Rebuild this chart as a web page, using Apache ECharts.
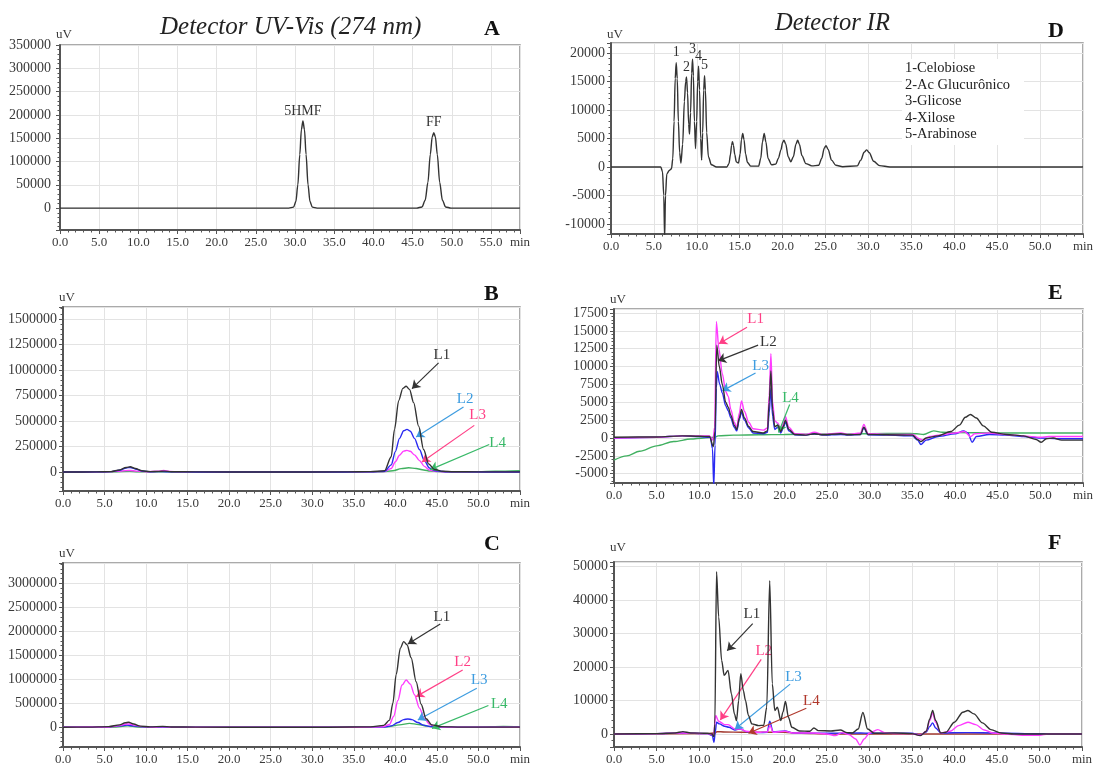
<!DOCTYPE html>
<html>
<head>
<meta charset="utf-8">
<script src="https://cdn.jsdelivr.net/npm/echarts@6/dist/echarts.min.js"></script>
<style>
html,body{margin:0;padding:0;background:#fff;}
#chart{width:1094px;height:765px;}
</style>
</head>
<body>
<div id="chart"></div>
<script>
// ---- tick values (uV) for each panel ----
const yTicksA = [0, 50000, 100000, 150000, 200000, 250000, 300000, 350000];
const yTicksB = [0, 250000, 500000, 750000, 1000000, 1250000, 1500000];
const yTicksC = [0, 500000, 1000000, 1500000, 2000000, 2500000, 3000000];
const yTicksD = [-10000, -5000, 0, 5000, 10000, 15000, 20000];
const yTicksE = [-5000, -2500, 0, 2500, 5000, 7500, 10000, 12500, 15000, 17500];
const yTicksF = [0, 10000, 20000, 30000, 40000, 50000];

// ---- chromatogram traces: [time (min), signal (uV)] ----
// A: UV-Vis 274 nm standard
const uvStd = [[0,0],[29.2,0],[29.8,2000],[30.1,14000],[30.35,50000],[30.6,115000],[30.8,168000],[31.0,187000],[31.2,168000],[31.4,115000],[31.65,50000],[31.9,14000],[32.2,2000],[32.8,0],
  [45.5,0],[46.2,2500],[46.6,17000],[46.95,55000],[47.25,115000],[47.5,153000],[47.7,162000],[47.9,153000],[48.15,115000],[48.45,55000],[48.8,17000],[49.2,2500],[49.9,0],[58.7,0]];

// B: UV-Vis, samples L1..L4
const uvB_L1 = [[0,0],[4,1000],[5.8,4000],[6.8,20000],[7.6,45000],[8.1,52000],[8.7,35000],[9.5,12000],[10.5,4000],[11.5,6000],[12.2,9000],[13,3000],[16,1000],[25,0],[34,1000],[37,4000],[38.7,12000],
  [39.5,150000],[39.9,420000],[40.4,700000],[40.9,820000],[41.3,840000],[41.7,810000],[42.2,680000],[42.8,450000],[43.4,220000],[44.0,80000],[44.7,25000],[45.7,8000],[47,3000],[50,1000],[55,1000]];
const uvB_L2 = [[0,0],[4,1000],[5.8,4000],[6.8,18000],[7.6,40000],[8.1,45000],[8.7,30000],[9.5,10000],[10.5,3000],[12,4000],[13,1500],[16,500],[25,0],[34,500],[37,2000],[38.7,6000],
  [39.5,70000],[40.0,200000],[40.5,330000],[41.0,405000],[41.4,418000],[41.8,400000],[42.3,330000],[42.9,220000],[43.5,110000],[44.1,40000],[44.8,12000],[46,3000],[48,1000],[55,0]];
const uvB_L3 = [[0,0],[5,1000],[6.5,6000],[7.6,14000],[8.1,15000],[8.8,9000],[10,3000],[11.5,8000],[12.1,15000],[12.8,6000],[14,2000],[18,500],[25,0],[34,1000],[37,3000],[38.7,5000],
  [39.5,35000],[40.0,100000],[40.5,165000],[41.0,205000],[41.4,212000],[41.8,203000],[42.3,168000],[42.9,112000],[43.5,55000],[44.1,20000],[44.8,6000],[46,2000],[55,0]];
const uvB_L4 = [[0,0],[6,1000],[8,8000],[9,3000],[12,3000],[20,500],[35,1000],[38.5,3000],[39.7,12000],[40.7,33000],[41.6,42000],[42.5,35000],[43.4,20000],[44.2,9000],[45.2,4000],[47,2000],[50,4000],[52,9000],[55,14000]];

// C: UV-Vis, samples L1..L4
const uvC_L1 = [[0,0],[3,5000],[5.5,15000],[6.8,50000],[7.5,95000],[7.9,105000],[8.5,70000],[9.3,25000],[10.5,10000],[12,20000],[13,8000],[16,3000],[25,0],[32,2000],[37,10000],[38.6,40000],
  [39.3,150000],[39.7,500000],[40.1,1100000],[40.6,1650000],[41.0,1785000],[41.4,1720000],[41.9,1450000],[42.5,950000],[43.1,480000],[43.7,180000],[44.4,50000],[45.5,15000],[48,5000],[55,5000]];
const uvC_L2 = [[0,0],[5.5,8000],[6.8,35000],[7.6,68000],[8.0,70000],[8.6,45000],[9.5,15000],[11,5000],[12,12000],[13,5000],[16,1500],[25,0],[35,2000],[38.5,10000],
  [39.3,60000],[39.8,230000],[40.3,560000],[40.8,880000],[41.3,986000],[41.8,900000],[42.3,680000],[42.9,400000],[43.5,180000],[44.1,65000],[44.8,20000],[46,5000],[55,0]];
const uvC_L3 = [[0,0],[5.5,8000],[6.8,30000],[7.7,45000],[8.5,30000],[9.5,10000],[12,4000],[16,0],[35,1000],[38.5,5000],
  [39.5,30000],[40.3,100000],[41.0,160000],[41.5,174000],[42.0,160000],[42.7,100000],[43.4,45000],[44.2,15000],[45.5,3000],[55,0]];
const uvC_L4 = [[0,0],[6,5000],[7.8,30000],[9,8000],[12,2000],[20,0],[36,2000],[39,10000],[40.5,50000],[41.7,83000],[42.8,60000],[43.8,25000],[44.8,8000],[46,3000],[50,5000],[53,20000],[55,15000]];

// D: refractive index, sugar standards
const irStd = [[0,0],[5.8,0],[6.0,-800],[6.15,-5000],[6.25,-12500],[6.35,-5000],[6.5,-1200],[6.8,-600],[7.05,-300],[7.2,1500],[7.35,8000],[7.48,15500],[7.6,18300],[7.72,15500],[7.85,8000],[8.0,2500],[8.15,700],
  [8.35,4000],[8.55,11500],[8.7,15000],[8.8,15800],[8.92,13000],[9.05,7500],[9.15,5800],[9.27,9500],[9.4,16500],[9.5,18900],[9.6,16000],[9.72,8000],[9.85,3200],[9.98,8000],[10.1,15000],[10.2,17700],[10.32,13500],[10.45,5000],[10.56,1200],
  [10.68,6000],[10.8,13500],[10.9,16000],[11.0,13500],[11.15,6000],[11.35,1800],[11.7,400],[12.3,0],[13.5,0],[13.75,600],[13.92,2200],[14.05,3800],[14.15,4450],[14.27,3800],[14.42,2200],[14.6,900],[14.85,700],
  [15.05,2300],[15.2,4800],[15.35,5900],[15.5,4800],[15.68,2300],[15.9,800],[16.3,150],[17.2,150],[17.45,1500],[17.65,4400],[17.85,5900],[18.05,4400],[18.3,1500],[18.7,400],[19.2,500],[19.5,1500],[19.8,3000],
  [20.0,4300],[20.15,4700],[20.35,4100],[20.65,1800],[20.95,900],[21.25,1800],[21.55,4000],[21.75,4700],[21.95,4000],[22.25,2000],[22.7,600],[23.4,200],[24.2,300],[24.55,1500],[24.85,3300],[25.05,3750],[25.3,3100],[25.7,1200],
  [26.2,300],[27,50],[28.7,200],[29.1,1200],[29.5,2600],[29.8,3000],[30.1,2500],[30.6,1000],[31.3,250],[32.5,0],[55,0]];

// E: refractive index, samples L1..L4
const irE_L1 = [[0,0],[5,100],[8,300],[10,300],[11.2,300],[11.6,-300],[11.8,1500],[12.0,16300],[12.3,12500],[12.7,9000],[13.1,6500],[13.4,5800],[13.7,4000],[14.1,2200],[14.4,1500],
  [14.7,3500],[14.95,5200],[15.3,3700],[15.8,2200],[16.3,1300],[17.5,1100],[18.0,1400],[18.2,6000],[18.4,11800],[18.6,5000],[18.85,2400],[19.2,2100],[19.55,1200],[19.85,2000],
  [20.1,3000],[20.5,1500],[21.2,600],[22.5,500],[23.5,800],[24.5,500],[26.6,700],[27.5,500],[28.9,700],[29.3,1900],[29.8,600],[32,500],[35,500],[35.8,-100],[36.2,-300],
  [37,200],[38,400],[40,700],[41.1,900],[41.8,200],[42.3,600],[44,700],[46,500],[48,300],[50,100],[51,200],[52,200],[55,200]];
const irE_L2 = [[0,100],[5,150],[8,300],[10,250],[11.2,200],[11.65,-1200],[11.85,1000],[12.05,13000],[12.35,10000],[12.7,7500],[13.1,5000],[13.4,4300],[13.7,3200],[14.1,1800],
  [14.4,1200],[14.7,2800],[14.95,4000],[15.3,2800],[15.8,1600],[16.3,900],[17.5,700],[18.0,1000],[18.2,5000],[18.4,9400],[18.6,4000],[18.85,1600],[19.2,1800],[19.55,900],
  [19.85,1600],[20.1,2500],[20.5,1200],[21.2,500],[22.5,400],[23.5,600],[24.5,450],[26.6,600],[27.5,450],[28.9,500],[29.3,1500],[29.8,500],[32,450],[35,400],[35.6,-200],
  [36.0,-500],[36.6,0],[38,300],[39.5,900],[40.5,1800],[41.2,2900],[41.8,3300],[42.5,2800],[43.3,1700],[44.3,800],[46,500],[48,300],[49.5,-200],[50.1,-600],[50.7,-100],
  [51.5,0],[52.5,-300],[55,-300]];
const irE_L3 = [[0,0],[5,100],[8,300],[10,200],[11.3,100],[11.55,-1500],[11.7,-6800],[11.85,-1000],[12.0,7000],[12.1,9300],[12.4,7500],[12.7,6300],[13.1,4500],[13.4,3800],
  [13.7,2800],[14.1,1500],[14.4,1000],[14.7,2600],[14.95,3600],[15.3,2500],[15.8,1400],[16.3,700],[17.5,600],[18.0,800],[18.2,3500],[18.4,7000],[18.6,3000],[18.85,1200],
  [19.2,1500],[19.55,700],[19.85,1400],[20.1,2200],[20.5,1000],[21.2,450],[22.5,400],[23.5,600],[24.5,400],[26.6,500],[27.5,400],[28.9,500],[29.3,1400],[29.8,450],[32,400],
  [35,300],[35.6,-300],[36.0,-900],[36.6,-300],[38,200],[40,600],[41.0,1000],[41.5,700],[42.0,-600],[42.5,200],[44,500],[46,400],[48,200],[50,0],[52,-100],[55,-100]];
const irE_L4 = [[0,-3100],[1.5,-2500],[3,-1850],[5,-1100],[7,-500],[9,-150],[10.5,0],[11.8,100],[12.2,300],[14,400],[17,450],[20,500],[25,550],[30,600],[34,650],[35.5,600],
  [36.3,500],[37.5,1000],[38.5,800],[40,750],[45,700],[50,700],[55,700]];

// F: refractive index, samples L1..L4
const irF_L1 = [[0,0],[5,100],[7.2,300],[8.1,700],[9,300],[11,200],[11.5,0],[11.75,-800],[11.85,3000],[12.05,48500],[12.3,35000],[12.65,22000],[12.95,17500],[13.4,19000],
  [13.8,12000],[14.15,6000],[14.4,4000],[14.65,10000],[14.9,18000],[15.2,13000],[15.45,10000],[15.8,5500],[16.2,3000],[17,2500],[17.6,2600],[17.95,8000],[18.3,45800],
  [18.6,15000],[18.9,7000],[19.2,8000],[19.6,4000],[19.85,6500],[20.15,9700],[20.5,5000],[20.9,2000],[21.8,900],[23.0,800],[23.5,1800],[24,1000],[25.5,900],[26.6,1200],
  [27.4,400],[28,300],[28.7,1500],[29.25,6400],[29.8,1500],[30.6,200],[33,300],[35,100],[36,-500],[36.7,800],[37.1,4500],[37.45,7000],[37.8,4000],[38.4,300],[39,500],
  [40,3500],[41.0,6500],[41.6,7000],[42.3,6000],[43.3,3300],[44.3,1300],[45.5,300],[47,0],[55,0]];
const irF_L2 = [[0,0],[5,100],[8,300],[11,100],[11.7,-300],[11.95,5500],[12.3,3800],[13,2800],[13.4,2800],[14.2,1500],[14.9,1500],[15.5,800],[17,500],[18,600],[18.35,2500],
  [18.7,500],[20.1,800],[21,300],[23.5,300],[25,0],[26.0,-500],[26.8,400],[27.6,-200],[28.4,-1500],[28.9,-3300],[29.4,-1500],[30,200],[31,1300],[31.8,400],[33,100],[35,100],
  [36,-400],[36.7,800],[37.1,4000],[37.45,6300],[37.8,3500],[38.4,300],[39.5,800],[40.5,2500],[41.6,3500],[42.5,2800],[43.5,1200],[44.5,300],[46,0],[48,-400],[50,-400],[51,0],[55,0]];
const irF_L3 = [[0,0],[5,100],[8,300],[11,100],[11.55,-500],[11.75,-2500],[11.9,500],[12.05,3500],[12.4,3000],[13,2300],[13.5,2000],[14.2,1200],[14.9,1500],[15.5,700],[17,400],
  [18,500],[18.3,3800],[18.7,600],[20.1,900],[21,300],[25,200],[29,300],[30,200],[35,200],[36,-300],[36.7,600],[37.1,2200],[37.45,3300],[37.8,1800],[38.4,300],[41.5,400],
  [45,300],[50,0],[55,0]];
const irF_L4 = [[0,0],[11,100],[11.9,300],[12.1,700],[13,600],[15,500],[18,500],[20,500],[22,200],[25,0],[55,0]];

// ---- styling ----
const FONT = '"Liberation Serif","Times New Roman",serif';
const INK = '#333333', BLUE = '#2a2af2', MAGENTA = '#ff3cff', GREEN = '#40b060', DARKRED = '#a33a30';
const TXT_BLUE = '#3d9ce0', TXT_PINK = '#ff3f86', TXT_GREEN = '#38b968', TXT_RED = '#b0382c';

// Panel frames in page pixels: [left, top, right, bottom]
const panels = [
  { box:[60,45,520,230],   xMax:58.7, yRange:[-47000,350000],   yTicks:yTicksA, nameGap:4, labelMargin:9,
    curves:[{data:uvStd, color:INK}],
    tags:[{t:'5HMF', at:[31.0,187000]}, {t:'FF', at:[47.7,162000]}], notes:[] },
  { box:[63,307,520,491],  xMax:55, yRange:[-186000,1617000], yTicks:yTicksB, nameGap:3, labelMargin:6,
    curves:[{data:uvB_L4,color:GREEN},{data:uvB_L3,color:MAGENTA},{data:uvB_L2,color:BLUE},{data:uvB_L1,color:INK}],
    tags:[],
    notes:[{t:'L1', c:INK,       at:[45.6,1144000], from:[45.2,1069000], to:[42.0,817000]},
           {t:'L2', c:TXT_BLUE,  at:[48.4,719000],  from:[48.2,637000],  to:[42.5,343000]},
           {t:'L3', c:TXT_PINK,  at:[49.9,555000],  from:[49.5,457000],  to:[43.2,98000]},
           {t:'L4', c:TXT_GREEN, at:[52.3,284000],  from:[51.3,270000],  to:[44.2,23000]}] },
  { box:[63,563,520,747],  xMax:55, yRange:[-410000,3423000], yTicks:yTicksC, nameGap:3, labelMargin:6,
    curves:[{data:uvC_L4,color:GREEN},{data:uvC_L3,color:BLUE},{data:uvC_L2,color:MAGENTA},{data:uvC_L1,color:INK}],
    tags:[],
    notes:[{t:'L1', c:INK,       at:[45.6,2306000], from:[45.4,2153000], to:[41.5,1736000]},
           {t:'L2', c:TXT_PINK,  at:[48.1,1368000], from:[48.1,1194000], to:[42.5,639000]},
           {t:'L3', c:TXT_BLUE,  at:[50.1,986000],  from:[49.8,812000],  to:[42.7,153000]},
           {t:'L4', c:TXT_GREEN, at:[52.5,479000],  from:[51.2,455000],  to:[44.4,-21000]}] },
  { box:[611,43,1083,234], xMax:55, yRange:[-11750,21750], yTicks:yTicksD, nameGap:2, labelMargin:6,
    curves:[{data:irStd, color:INK}],
    tags:[{t:'1',at:[7.6,18300]},{t:'2',at:[8.8,15800]},{t:'3',at:[9.5,18900]},{t:'4',at:[10.2,17700]},{t:'5',at:[10.9,16000]}],
    notes:[] },
  { box:[614,309,1083,483], xMax:55, yRange:[-6300,18060], yTicks:yTicksE, nameGap:3, labelMargin:6,
    curves:[{data:irE_L4,color:GREEN},{data:irE_L3,color:BLUE},{data:irE_L1,color:MAGENTA},{data:irE_L2,color:INK}],
    tags:[],
    notes:[{t:'L1', c:TXT_PINK,  at:[16.6,16600], from:[15.6,15500], to:[12.3,13200]},
           {t:'L2', c:INK,       at:[18.1,13500], from:[16.9,13000], to:[12.2,10800]},
           {t:'L3', c:TXT_BLUE,  at:[17.2,10100], from:[16.6,9100],  to:[12.7,6600]},
           {t:'L4', c:TXT_GREEN, at:[20.7,5600],  from:[20.6,4700],  to:[19.3,780]}] },
  { box:[614,562,1082,747], xMax:55, yRange:[-3900,51400], yTicks:yTicksF, nameGap:8, labelMargin:6,
    curves:[{data:irF_L4,color:DARKRED},{data:irF_L3,color:BLUE},{data:irF_L2,color:MAGENTA},{data:irF_L1,color:INK}],
    tags:[],
    notes:[{t:'L1', c:INK,       at:[16.2,35800], from:[16.3,33000], to:[13.3,24900]},
           {t:'L2', c:TXT_PINK,  at:[17.6,24900], from:[17.3,22300], to:[12.5,4200]},
           {t:'L3', c:TXT_BLUE,  at:[21.1,17100], from:[20.7,14900], to:[14.2,1400]},
           {t:'L4', c:TXT_RED,   at:[23.2,9700],  from:[22.6,7700],  to:[15.8,200]}] }
];

const W = 1094, H = 765;
const grids = [], xAxes = [], yAxes = [], series = [];

panels.forEach((p, i) => {
  const [l, t, r, b] = p.box;
  const step = p.yTicks[1] - p.yTicks[0];
  grids.push({ left:l, top:t, width:r-l, height:b-t, show:true, borderColor:'#8e8e8e', borderWidth:1.5,
               backgroundColor:'#fff', containLabel:false, outerBoundsMode:'none' });
  xAxes.push({
    type:'value', gridIndex:i, min:0, max:p.xMax, interval:5,
    axisLine:{ show:true, onZero:false, lineStyle:{ color:'#555', width:2 } },
    axisTick:{ show:true, length:4, lineStyle:{ color:'#555', width:1 } },
    minorTick:{ show:true, splitNumber:5, length:2.5, lineStyle:{ color:'#555', width:1 } },
    splitLine:{ show:true, lineStyle:{ color:'#e3e3e3', width:1 } },
    axisLabel:{ show:true, showMinLabel:true, showMaxLabel:true, margin:6, color:'#3a3a3a', fontFamily:FONT, fontSize:13,
      formatter:(v) => Math.abs(v - p.xMax) < 1e-6 ? 'min' : v.toFixed(1) }
  });
  yAxes.push({
    type:'value', gridIndex:i, position:'left', min:p.yRange[0], max:p.yRange[1],
    minInterval:step, maxInterval:step,
    name:'uV', nameLocation:'end', nameGap:p.nameGap,
    nameTextStyle:{ color:'#3a3a3a', fontFamily:FONT, fontSize:13, align:'left', verticalAlign:'bottom', lineHeight:13, padding:[0,0,0,-4] },
    axisLine:{ show:true, onZero:false, lineStyle:{ color:'#555', width:2 } },
    axisTick:{ show:true, length:4, lineStyle:{ color:'#555', width:1 } },
    minorTick:{ show:true, splitNumber:5, length:2.5, lineStyle:{ color:'#555', width:1 } },
    splitLine:{ show:true, lineStyle:{ color:'#e3e3e3', width:1 } },
    axisLabel:{ show:true, margin:p.labelMargin, color:'#3a3a3a', fontFamily:FONT, fontSize:14,
      formatter:(v) => p.yTicks.some(tv => Math.abs(tv - v) < 1e-6) ? String(v) : '' }
  });

  p.curves.forEach((cv, k) => {
    const s = {
      type:'line', xAxisIndex:i, yAxisIndex:i, data:cv.data, showSymbol:false, symbol:'none',
      smooth:0.3, smoothMonotone:'x', silent:true, animation:false, clip:true,
      lineStyle:{ color:cv.color, width:1.4 }, z:2+k
    };
    if (k === p.curves.length - 1) {
      const mp = [];
      p.tags.forEach(tg => mp.push({ name:tg.t, coord:tg.at, symbol:'circle', symbolSize:0,
        label:{ show:true, position:'top', distance:3, formatter:'{b}', color:'#333', fontFamily:FONT, fontSize:14 } }));
      p.notes.forEach(n => mp.push({ name:n.t, coord:n.at, symbol:'circle', symbolSize:0,
        label:{ show:true, position:'inside', formatter:'{b}', color:n.c, fontFamily:FONT, fontSize:15 } }));
      if (mp.length) s.markPoint = { silent:true, animation:false, data:mp };
      if (p.notes.length) {
        s.markLine = { silent:true, animation:false, symbol:['none','arrow'], symbolSize:8,
          label:{ show:false },
          data: p.notes.map(n => [
            { coord:n.from, symbol:'none', lineStyle:{ color:n.c, width:1.2, type:'solid' }, itemStyle:{ color:n.c } },
            { coord:n.to, symbol:'arrow', symbolSize:8, itemStyle:{ color:n.c } } ]) };
      }
    }
    series.push(s);
  });
});

const graphic = [
  { type:'text', left:160, top:15, z:100, style:{ text:'Detector UV-Vis (274 nm)', font:'italic 25px ' + FONT, fill:'#222' } },
  { type:'text', left:775, top:11, z:100, style:{ text:'Detector IR', font:'italic 24.5px ' + FONT, fill:'#222' } },
  { type:'text', left:484, top:18, z:100, style:{ text:'A', font:'bold 22px ' + FONT, fill:'#111' } },
  { type:'text', left:484, top:283, z:100, style:{ text:'B', font:'bold 22px ' + FONT, fill:'#111' } },
  { type:'text', left:484, top:533, z:100, style:{ text:'C', font:'bold 22px ' + FONT, fill:'#111' } },
  { type:'text', left:1048, top:20, z:100, style:{ text:'D', font:'bold 22px ' + FONT, fill:'#111' } },
  { type:'text', left:1048, top:282, z:100, style:{ text:'E', font:'bold 22px ' + FONT, fill:'#111' } },
  { type:'text', left:1048, top:532, z:100, style:{ text:'F', font:'bold 22px ' + FONT, fill:'#111' } },
  { type:'rect', left:902, top:59, z:99, shape:{ width:122, height:86 }, style:{ fill:'#fff' } }
];
const sugarNames = ['1-Celobiose', '2-Ac Glucurônico', '3-Glicose', '4-Xilose', '5-Arabinose'];
sugarNames.forEach((nm, k) => graphic.push({ type:'text', left:905, top:61 + k*16.5, z:100,
  style:{ text:nm, font:'14.5px ' + FONT, fill:'#222' } }));

const chart = echarts.init(document.getElementById('chart'), null, { renderer:'canvas', width:W, height:H });
chart.setOption({
  backgroundColor:'#fff',
  animation:false,
  textStyle:{ fontFamily:FONT },
  grid:grids, xAxis:xAxes, yAxis:yAxes, series:series, graphic:graphic
});
</script>
</body>
</html>
